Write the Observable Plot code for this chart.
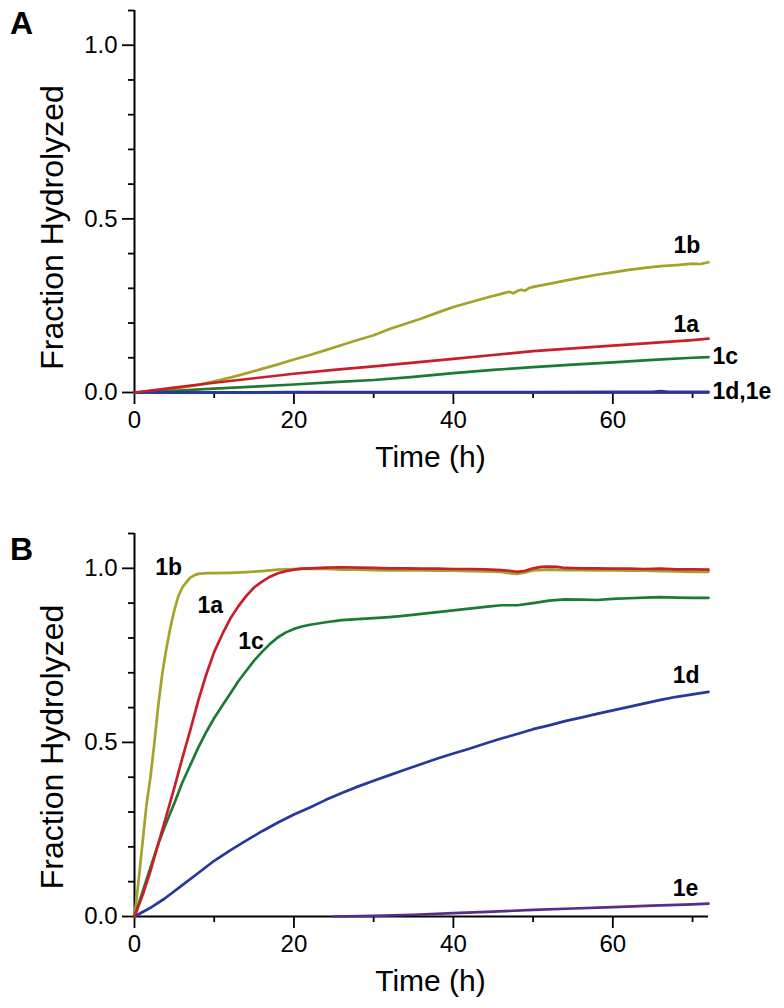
<!DOCTYPE html>
<html><head><meta charset="utf-8">
<script src="https://cdn.jsdelivr.net/npm/d3@7"></script>
<script src="https://cdn.jsdelivr.net/npm/@observablehq/plot@0.6"></script>
<style>
body{margin:0;background:#fff;font-family:"Liberation Sans",Arial,Helvetica,sans-serif;}
.panel{position:relative;width:784px;}
.tag{position:absolute;left:10px;font-weight:bold;font-size:32px;line-height:32px;color:#000;}
svg{overflow:visible;}
</style></head><body>
<div class="panel" id="pa"><div class="tag" style="top:7px">A</div></div>
<div class="panel" id="pb"><div class="tag" style="top:33px">B</div></div>
<script>
// ---------- shared ----------
const seriesNames = ["1a", "1b", "1c", "1d", "1e"];
const seriesColors = ["#c8202a", "#a3a32b", "#1d7a34", "#26389a", "#5a2b88"];
const xMajorTicks = [0, 20, 40, 60];
const xMinorTicks = [10, 30, 50, 70];
const yMajorTicks = [0, 0.5, 1.0];
const yMinorTicks = [0.1, 0.2, 0.3, 0.4, 0.6, 0.7, 0.8, 0.9, 1.1];
const xTitle = "Time (h)";
const yTitle = "Fraction Hydrolyzed";

// ---------- Panel A ----------
const tA_1b = [0,4,8,10,12,14,16,18,20,22,24,26,28,30,32,34,36,38,40,42,44,46,47,47.5,48,48.5,49,49.5,50,52,54,56,58,60,62,64,66,68,70,71,72];
const vA_1b = [0,0.008,0.022,0.032,0.043,0.055,0.068,0.081,0.095,0.108,0.122,0.137,0.151,0.165,0.183,0.198,0.213,0.230,0.246,0.259,0.272,0.284,0.290,0.286,0.292,0.296,0.293,0.301,0.304,0.313,0.322,0.331,0.339,0.346,0.353,0.359,0.364,0.367,0.371,0.370,0.375];
const tA_1a = [0,5,10,15,20,25,30,35,40,45,50,55,60,65,70,72];
const vA_1a = [0,0.014,0.028,0.041,0.054,0.065,0.075,0.086,0.097,0.108,0.119,0.127,0.135,0.143,0.151,0.155];
const tA_1c = [0,5,10,15,20,25,30,35,40,45,50,55,60,65,70,72];
const vA_1c = [0,0.005,0.011,0.017,0.023,0.030,0.036,0.045,0.056,0.065,0.073,0.080,0.087,0.094,0.100,0.102];
const tA_1d = [0,10,20,30,40,50,60,65,66,67,72];
const vA_1d = [0,0,0.001,0.001,0.001,0.001,0.002,0.002,0.004,0.002,0.002];
const tA_1e = [0,72];
const vA_1e = [0,0];
const labA_text = ["1b", "1a", "1c", "1d,1e"];
const labA_t = [67.6, 67.6, 72.5, 72.5];
const labA_v = [0.423, 0.196, 0.104, 0.003];

// ---------- Panel B ----------
const tB_1b = [0,0.5,1,1.5,2,2.5,3,3.5,4,4.5,5,5.5,6,6.5,7,7.5,8,9,10,12,14,16,18,20,22,24,26,28,30,32,34,36,38,40,42,44,46,47,48,49,50,52,54,56,58,60,62,64,66,68,70,72];
const vB_1b = [0,0.10,0.21,0.32,0.40,0.50,0.61,0.70,0.77,0.83,0.88,0.92,0.945,0.960,0.973,0.980,0.984,0.986,0.986,0.987,0.989,0.992,0.996,0.998,0.999,0.998,0.996,0.996,0.995,0.994,0.995,0.994,0.993,0.993,0.992,0.991,0.990,0.986,0.984,0.988,0.994,0.996,0.995,0.995,0.994,0.994,0.993,0.993,0.992,0.991,0.990,0.990];
const tB_1a = [0,1,2,3,4,5,6,7,8,9,10,11,12,13,14,15,16,17,18,19,20,21,22,24,26,28,30,32,34,36,38,40,42,44,46,47,48,49,50,51,52,53,54,56,58,60,62,64,66,68,70,72];
const vB_1a = [0,0.06,0.13,0.21,0.29,0.37,0.455,0.535,0.62,0.695,0.76,0.81,0.855,0.89,0.92,0.945,0.962,0.976,0.986,0.992,0.996,0.999,1.0,1.002,1.003,1.002,1.001,1.0,1.0,0.999,0.999,0.998,0.998,0.997,0.995,0.993,0.990,0.993,1.0,1.004,1.005,1.004,1.001,1.0,1.0,0.999,0.999,0.998,0.999,0.997,0.997,0.996];
const tB_1c = [0,1,2,3,4,5,6,7,8,9,10,11,12,13,14,15,16,17,18,19,20,21,22,24,26,28,30,32,34,36,38,40,42,44,46,48,50,52,54,56,58,60,62,64,66,68,70,72];
const vB_1c = [0,0.07,0.14,0.21,0.27,0.325,0.385,0.435,0.485,0.53,0.57,0.605,0.64,0.675,0.705,0.735,0.76,0.783,0.802,0.816,0.826,0.833,0.838,0.845,0.851,0.854,0.857,0.860,0.864,0.869,0.874,0.879,0.884,0.889,0.894,0.894,0.900,0.907,0.911,0.910,0.909,0.912,0.914,0.916,0.917,0.916,0.915,0.915];
const tB_1d = [0,2,3.75,6,8,10,12,14,16,18,20,22,24,26,28,30,32,34,36,38,40,42,44,46,48,50,52,54,56,58,60,62,64,66,68,70,72];
const vB_1d = [0,0.025,0.051,0.09,0.125,0.16,0.19,0.218,0.245,0.27,0.293,0.313,0.335,0.355,0.373,0.39,0.406,0.422,0.438,0.454,0.468,0.482,0.497,0.511,0.524,0.538,0.549,0.561,0.571,0.582,0.592,0.602,0.612,0.622,0.631,0.638,0.645];
const tB_1e = [25,30,35,40,45,50,55,60,65,70,72];
const vB_1e = [0,0.002,0.005,0.0095,0.014,0.019,0.023,0.027,0.031,0.035,0.037];
const labB_text = ["1b", "1a", "1c", "1d", "1e"];
const labB_t = [2.6, 7.9, 13.0, 67.5, 67.5];
const labB_v = [1.003, 0.894, 0.790, 0.693, 0.080];

// ---------- build ----------
function rows(name, t, v) { return t.map((x, i) => ({t: x, v: v[i], s: name})); }
function labels(text, t, v) { return text.map((s, i) => ({s, t: t[i], v: v[i]})); }
const drawOrder = ["1b", "1c", "1e", "1d", "1a"];

function panel(seriesMap, labs, marginTop, marginBottom, height, yTitleShift) {
  const data = drawOrder.filter(n => seriesMap[n]).flatMap(n => rows(n, seriesMap[n][0], seriesMap[n][1]));
  return Plot.plot({
    width: 784,
    height,
    marginLeft: 134,
    marginRight: 76,
    marginTop,
    marginBottom,
    style: {fontFamily: "'Liberation Sans', Arial, Helvetica, sans-serif", fontSize: "24px", color: "#000", background: "#fff", overflow: "visible"},
    x: {domain: [0, 72]},
    y: {domain: [0, 1.1]},
    color: {domain: seriesNames, range: seriesColors},
    marks: [
      Plot.axisX({ticks: xMajorTicks, tickSize: 12, tickPadding: 6, strokeWidth: 1.8, fontSize: 24, label: null}),
      Plot.axisX({ticks: xMinorTicks, tickSize: 6, strokeWidth: 1.8, tickFormat: () => "", label: null}),
      Plot.axisY({ticks: yMajorTicks, tickSize: 12, tickPadding: 5, strokeWidth: 1.8, fontSize: 24, tickFormat: d => d.toFixed(1), label: null}),
      Plot.axisY({ticks: yMinorTicks, tickSize: 6, strokeWidth: 1.8, tickFormat: () => "", label: null}),
      Plot.ruleX([0], {strokeWidth: 2}),
      Plot.ruleY([0], {strokeWidth: 2}),
      Plot.line(data, {x: "t", y: "v", z: "s", stroke: "s", strokeWidth: 2.7, curve: "linear"}),
      Plot.text(labs, {x: "t", y: "v", text: "s", textAnchor: "start", lineAnchor: "middle", fontWeight: "bold", fontSize: 23, fill: "#000"}),
      Plot.text([xTitle], {frameAnchor: "bottom", textAnchor: "middle", lineAnchor: "top", dx: 9, dy: 53, fontSize: 30, fill: "#000"}),
      Plot.text([yTitle], {frameAnchor: "left", textAnchor: "middle", rotate: -90, lineAnchor: "middle", dx: -82, dy: yTitleShift, fontSize: 32, fill: "#000"})
    ]
  });
}

const plotA = panel({
  "1a": [tA_1a, vA_1a], "1b": [tA_1b, vA_1b], "1c": [tA_1c, vA_1c], "1d": [tA_1d, vA_1d], "1e": [tA_1e, vA_1e]
}, labels(labA_text, labA_t, labA_v), 10, 108, 500, 26);
document.getElementById("pa").appendChild(plotA);

const plotB = panel({
  "1a": [tB_1a, vB_1a], "1b": [tB_1b, vB_1b], "1c": [tB_1c, vB_1c], "1d": [tB_1d, vB_1d], "1e": [tB_1e, vB_1e]
}, labels(labB_text, labB_t, labB_v), 33, 92, 508, 22);
document.getElementById("pb").appendChild(plotB);
</script>
</body></html>
